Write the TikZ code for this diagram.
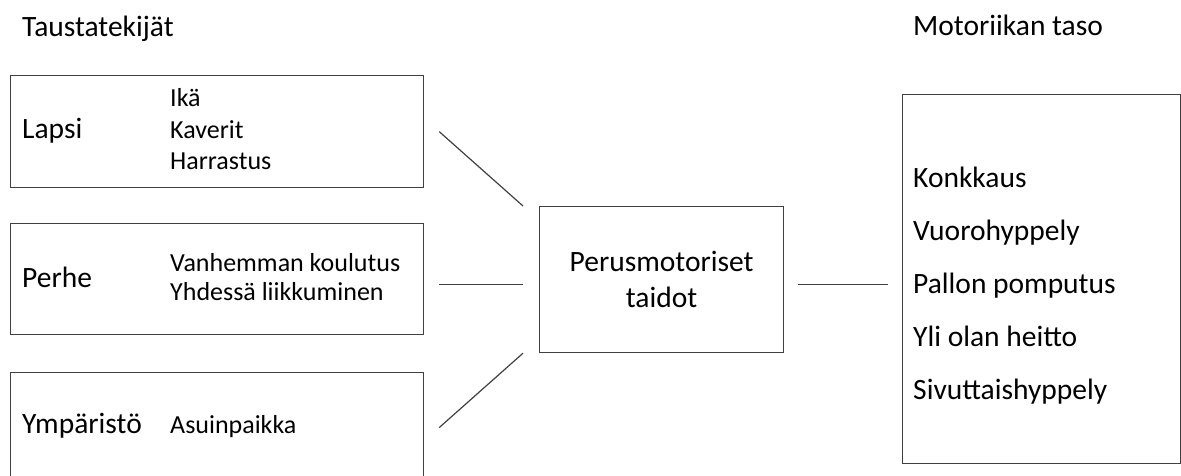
\documentclass[tikz,border=0pt]{standalone}
\usepackage{fontspec}
\setmainfont{Carlito}
\usetikzlibrary{positioning}

\begin{document}
\begin{tikzpicture}[x=1pt, y=-1pt,
   box/.style={draw=black!75, line width=1.2pt, inner sep=0pt, anchor=north west},
   head/.style={font=\fontsize{29.5}{36}\selectfont, inner sep=0pt, anchor=base west},
   item/.style={font=\fontsize{26}{31}\selectfont, inner sep=0pt, anchor=base west},
   link/.style={draw=black!75, line width=1.2pt}]

\clip (0,0) rectangle (1181,476);

% boxes
\node[box, minimum width=413pt, minimum height=112pt] (lapsi) at (10,75) {};
\node[box, minimum width=413pt, minimum height=111pt] (perhe) at (10,223) {};
\node[box, minimum width=413pt, minimum height=110pt] (ymp)   at (10,372) {};
\node[box, minimum width=244pt, minimum height=146pt, align=center,
      font=\fontsize{29.5}{36}\selectfont] (perus) at (539,206)
      {Perusmotoriset\\taidot};
\node[box, minimum width=278pt, minimum height=369pt] (motor) at (902,94) {};

% titles
\node[head] (tausta) at (22,37) {Taustatekijät};
\node[head] (taso)   at (913,36) {Motoriikan taso};

% left column
\node[head] (l1) at (22,139) {Lapsi};
\node[item] (l1a) at (170,107) {Ikä};
\node[item] (l1b) at (170,139) {Kaverit};
\node[item] (l1c) at (170,170) {Harrastus};

\node[head] (l2) at (22,287) {Perhe};
\node[item] (l2a) at (170,271) {Vanhemman koulutus};
\node[item] (l2b) at (170,300) {Yhdessä liikkuminen};

\node[head] (l3) at (22,433) {Ympäristö};
\node[item] (l3a) at (170,433) {Asuinpaikka};

% right column
\foreach \t [count=\i] in {Konkkaus, Vuorohyppely, Pallon pomputus,
                           Yli olan heitto, Sivuttaishyppely}
   \node[head] (m\i) at (913,134+53*\i) {\t};

% links
\draw[link] ([xshift=15pt]lapsi.east) -- ([xshift=-16pt]perus.north west);
\draw[link] ([xshift=15pt,yshift=-5.5pt]perhe.east) -- ([xshift=-16pt,yshift=-5pt]perus.west);
\draw[link] ([xshift=15pt]ymp.east) -- ([xshift=-16pt]perus.south west);
\draw[link] ([xshift=14pt,yshift=-5pt]perus.east) -- ([xshift=-14pt,yshift=-5.5pt]motor.west);

\end{tikzpicture}
\end{document}
